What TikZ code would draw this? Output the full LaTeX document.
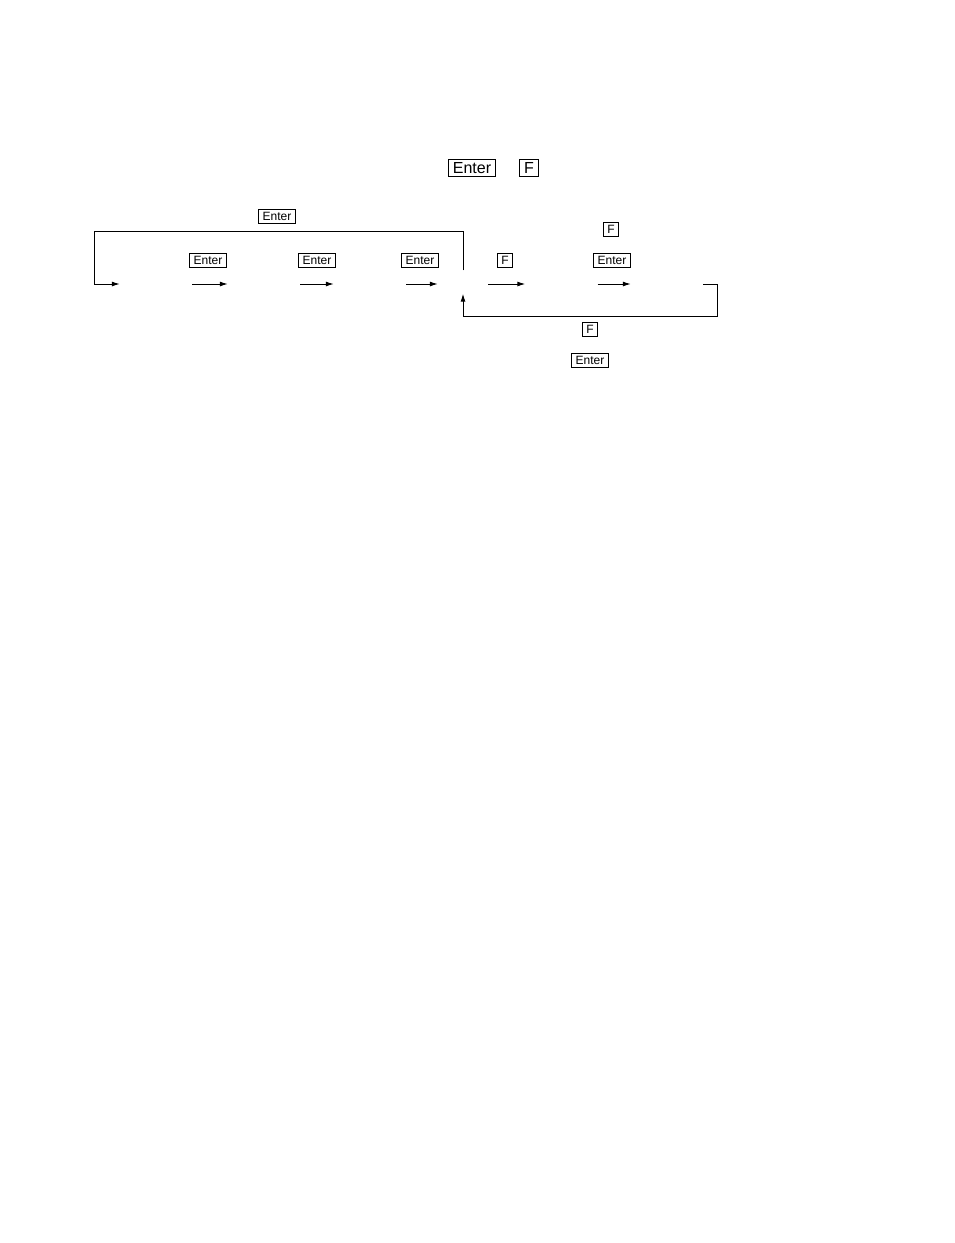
\documentclass[tikz,border=0pt]{standalone}
\usepackage{fontspec}
\setmainfont{Liberation Sans}
\usetikzlibrary{arrows.meta}

\tikzset{
  key/.style={draw, line width=0.5pt, inner xsep=4pt, inner ysep=2.7pt, font=\fontsize{12}{14}\selectfont},
  bigkey/.style={key, inner xsep=4.5pt, inner ysep=3pt, font=\fontsize{16}{18}\selectfont},
  state/.style={minimum width=72pt, minimum height=23pt, inner sep=0pt},
  flow/.style={line width=1pt, -{Latex[length=8pt,width=5pt]}}
}

\begin{document}
\begin{tikzpicture}[x=1pt,y=-1pt]
        \useasboundingbox (0,0) rectangle (954,1243);
        \node[bigkey] (enterkey) at (472,168) {Enter};
        \node[bigkey] (fkey) at (529,168) {F};
        \node[state] (s1) at (156,284) {};
        \node[state] (s2) at (264,284) {};
        \node[state] (s3) at (370,284) {};
        \node[state, minimum width=50pt] (s4) at (463,282) {};
        \node[state] (s5) at (561.5,284) {};
        \node[state] (s6) at (667,284) {};
        \coordinate (back) at (94,231);
        \coordinate (ret) at (717,316);
        \draw[flow] (s1.east) -- (s2.west);
        \draw[flow] (s2.east) -- (s3.west);
        \draw[flow] (s3.east) -- (s4.west |- s3.east);
        \draw[flow] (s4.east |- s5.west) -- (s5.west);
        \draw[flow] (s5.east) -- (s6.west);
        \draw[flow] (s4.north) |- (back) |- (s1.west);
        \draw[flow] (s6.east) -| (ret) -| (s4.south);
        \node[key] (k1) at (208,260) {Enter};
        \node[key] (k2) at (317,260) {Enter};
        \node[key] (k3) at (420,260) {Enter};
        \node[key] (k4) at (505,260) {F};
        \node[key] (k5) at (612,260) {Enter};
        \node[key] (k6) at (611,229) {F};
        \node[key] (kback) at (277,216) {Enter};
        \node[key] (kret) at (590,329) {F};
        \node[key] (kret2) at (590,360) {Enter};
    \end{tikzpicture}
\end{document}
